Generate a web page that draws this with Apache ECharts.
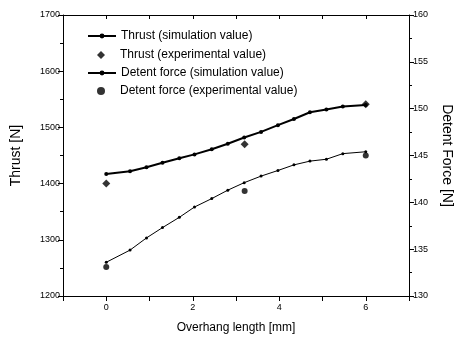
<!DOCTYPE html>
<html>
<head>
<meta charset="utf-8">
<script src="https://cdn.jsdelivr.net/npm/echarts@6/dist/echarts.min.js"></script>
<style>
  html, body { margin: 0; padding: 0; background: #fff; }
  #main { width: 454px; height: 341px; }
</style>
</head>
<body>
<div id="main"></div>
<script>
// overhang length [mm] of the simulated points
const simX = [0, 0.55, 0.93, 1.3, 1.69, 2.04, 2.44, 2.81, 3.19, 3.58, 3.97, 4.34, 4.71, 5.09, 5.47, 6.0];
const thrustSim = [1417, 1422, 1429, 1437, 1445, 1452, 1461, 1471, 1482, 1492, 1504, 1515, 1527, 1532, 1537, 1540];
const detentSim = [133.6, 134.9, 136.2, 137.3, 138.4, 139.5, 140.4, 141.3, 142.1, 142.8, 143.4, 144.0, 144.4, 144.6, 145.2, 145.4];

const expX = [0, 3.2, 6];
const thrustExp = [1400, 1470, 1541];
const detentExp = [133.1, 141.2, 145.0];

const xTickLabels = ['0', '2', '4', '6'];

const pairs = (xs, ys) => xs.map((x, i) => [x, ys[i]]);

const chart = echarts.init(document.getElementById('main'));
const font = 'Liberation Sans, Arial, sans-serif';

const tickStyle = { color: '#000', fontSize: 9, fontFamily: font };
const lineCol = { color: '#000', width: 1 };

// one legend per row so the markers keep their own size
const legendRow = (name, top, isLine) => ({
  orient: 'vertical',
  left: isLine ? 87 : 97,
  top: top,
  padding: 0,
  itemWidth: isLine ? 28 : 8,
  itemHeight: isLine ? 6 : 8,
  textStyle: { color: '#000', fontSize: 12, fontFamily: font, padding: [0, 0, 0, isLine ? 0 : 10] },
  data: [name]
});

const option = {
  animation: false,
  backgroundColor: '#fff',
  textStyle: { fontFamily: font },
  grid: { left: 63, right: 45, top: 15, bottom: 45, outerBoundsMode: 'none' },
  legend: [
    legendRow('Thrust (simulation value)', 30, true),
    legendRow('Thrust (experimental value)', 49, false),
    legendRow('Detent force (simulation value)', 67, true),
    legendRow('Detent force (experimental value)', 85, false)
  ],
  xAxis: [{
    type: 'value',
    min: -1, max: 7, interval: 1,
    name: 'Overhang length [mm]',
    nameLocation: 'middle',
    nameGap: 26,
    nameTextStyle: { color: '#000', fontSize: 12, fontFamily: font },
    axisLine: { onZero: false, lineStyle: lineCol },
    axisTick: { show: true, inside: false, length: 5, lineStyle: lineCol },
    axisLabel: {
      ...tickStyle, margin: 7,
      formatter: v => xTickLabels.includes(String(v)) ? String(v) : ''
    },
    splitLine: { show: false }
  }, {
    type: 'value',
    position: 'top',
    min: -1, max: 7, interval: 1,
    axisLine: { onZero: false, lineStyle: lineCol },
    axisTick: { show: true, inside: true, length: 4, lineStyle: lineCol },
    axisLabel: { show: false },
    splitLine: { show: false }
  }],
  yAxis: [{
    type: 'value',
    min: 1200, max: 1700, interval: 100,
    name: 'Thrust [N]',
    nameLocation: 'middle',
    nameGap: 40,
    nameTextStyle: { color: '#000', fontSize: 14, fontFamily: font },
    axisLine: { show: true, onZero: false, lineStyle: lineCol },
    axisTick: { show: true, length: 5, lineStyle: lineCol },
    minorTick: { show: true, splitNumber: 2, length: 3, lineStyle: lineCol },
    axisLabel: { ...tickStyle, margin: 3, formatter: v => String(v) },
    splitLine: { show: false }
  }, {
    type: 'value',
    position: 'right',
    min: 130, max: 160, interval: 5,
    name: 'Detent Force [N]',
    nameLocation: 'middle',
    nameGap: 31,
    nameRotate: -90,
    nameTextStyle: { color: '#000', fontSize: 14, fontFamily: font },
    axisLine: { show: true, onZero: false, lineStyle: lineCol },
    axisTick: { show: true, length: 5, lineStyle: lineCol },
    minorTick: { show: true, splitNumber: 2, length: 3, lineStyle: lineCol },
    axisLabel: { ...tickStyle, margin: 4, formatter: v => String(v) },
    splitLine: { show: false }
  }],
  series: [{
    name: 'Thrust (simulation value)',
    type: 'line',
    yAxisIndex: 0,
    data: pairs(simX, thrustSim),
    symbol: 'circle',
    symbolSize: 4,
    lineStyle: { color: '#000', width: 2 },
    itemStyle: { color: '#000' }
  }, {
    name: 'Thrust (experimental value)',
    type: 'scatter',
    yAxisIndex: 0,
    data: pairs(expX, thrustExp),
    symbol: 'diamond',
    symbolSize: 8,
    itemStyle: { color: '#000' }
  }, {
    name: 'Detent force (simulation value)',
    type: 'line',
    yAxisIndex: 1,
    data: pairs(simX, detentSim),
    symbol: 'circle',
    symbolSize: 3,
    lineStyle: { color: '#000', width: 1 },
    itemStyle: { color: '#000' }
  }, {
    name: 'Detent force (experimental value)',
    type: 'scatter',
    yAxisIndex: 1,
    data: pairs(expX, detentExp),
    symbol: 'circle',
    symbolSize: 6,
    itemStyle: { color: '#000' }
  }]
};

chart.setOption(option);
</script>
</body>
</html>
